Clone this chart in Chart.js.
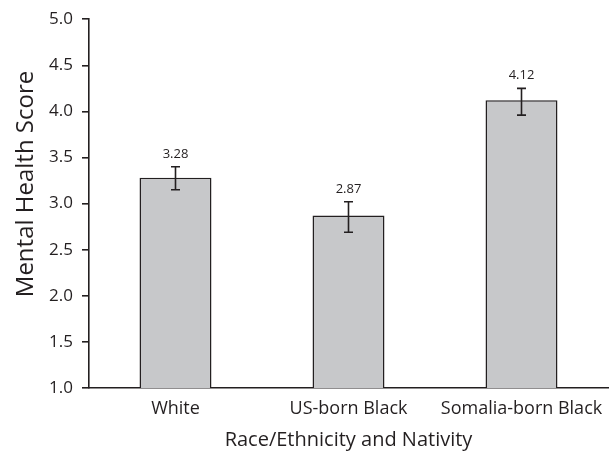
<!doctype html>
<html lang="en">
<head>
    <meta charset="utf-8">
    <title>Mental Health Score by Race/Ethnicity and Nativity</title>
    <style>
        html, body { margin: 0; padding: 0; background: #fff; }
        #wrap { width: 615px; height: 452px; }
    </style>
</head>
<body>
    <div id="wrap"><canvas id="myChart" width="615" height="452"></canvas></div>

    <script src="https://cdn.jsdelivr.net/npm/chart.js"></script>
    <script>
        // data
        var groups = ['White', 'US-born Black', 'Somalia-born Black'];
        var scores = [3.28, 2.87, 4.12];
        var errLow = [3.15, 2.69, 3.96];
        var errHigh = [3.40, 3.02, 4.25];
        var yTicks = [1.0, 1.5, 2.0, 2.5, 3.0, 3.5, 4.0, 4.5, 5.0];
        var yTitle = 'Mental Health Score';
        var xTitle = 'Race/Ethnicity and Nativity';

        var ink = '#231f20';
        var fontName = "'Open Sans', 'DejaVu Sans', sans-serif";

        // whiskers, value labels and the two axis titles
        var extras = {
            id: 'extras',
            afterDatasetsDraw: function (chart) {
                var ctx = chart.ctx;
                var x = chart.scales.x, y = chart.scales.y;
                ctx.save();
                ctx.strokeStyle = ink;
                ctx.fillStyle = ink;
                ctx.lineWidth = 1.6;
                groups.forEach(function (g, i) {
                    var cx = x.getPixelForValue(i);
                    var top = y.getPixelForValue(errHigh[i]);
                    var bot = y.getPixelForValue(errLow[i]);
                    ctx.beginPath();
                    ctx.moveTo(cx, top); ctx.lineTo(cx, bot);
                    ctx.moveTo(cx - 4.5, top); ctx.lineTo(cx + 4.5, top);
                    ctx.moveTo(cx - 4.5, bot); ctx.lineTo(cx + 4.5, bot);
                    ctx.stroke();
                    ctx.font = '13px ' + fontName;
                    ctx.textAlign = 'center';
                    ctx.textBaseline = 'alphabetic';
                    ctx.fillText(scores[i].toFixed(2), cx, top - 9);
                });

                // x title
                ctx.font = '20px ' + fontName;
                ctx.textAlign = 'center';
                ctx.textBaseline = 'alphabetic';
                ctx.fillText(xTitle, (chart.chartArea.left + chart.chartArea.right) / 2, 446);

                // y title (sits a bit above the middle of the axis)
                ctx.translate(33, 184);
                ctx.rotate(-Math.PI / 2);
                ctx.font = '24px ' + fontName;
                ctx.fillText(yTitle, 0, 0);
                ctx.restore();
            }
        };

        new Chart('myChart', {
            type: 'bar',
            data: {
                labels: groups,
                datasets: [{
                    data: scores,
                    backgroundColor: '#c7c8ca',
                    borderColor: ink,
                    borderWidth: 1.5,
                    borderSkipped: 'bottom',
                    categoryPercentage: 1.0,
                    barPercentage: 0.416
                }]
            },
            options: {
                responsive: false,
                animation: false,
                layout: { padding: { top: 19, right: 7, left: 0, bottom: 0 } },
                plugins: {
                    legend: { display: false },
                    tooltip: { enabled: false }
                },
                scales: {
                    x: {
                        grid: { display: false, drawTicks: false },
                        border: { display: true, color: ink, width: 1.6 },
                        ticks: { color: ink, padding: 10, font: { family: fontName, size: 18 } },
                        afterFit: function (s) { s.height = 64; }
                    },
                    y: {
                        min: 1,
                        max: 5,
                        afterBuildTicks: function (s) {
                            s.ticks = yTicks.map(function (v) { return { value: v }; });
                        },
                        grid: { drawOnChartArea: false, tickLength: 7, color: ink, lineWidth: 1.6 },
                        border: { display: true, color: ink, width: 1.6 },
                        ticks: {
                            color: ink,
                            padding: 9,
                            font: { family: fontName, size: 17 },
                            callback: function (v) { return Number(v).toFixed(1); }
                        },
                        afterFit: function (s) { s.width = 89; }
                    }
                }
            },
            plugins: [extras]
        });
    </script>
</body>
</html>
